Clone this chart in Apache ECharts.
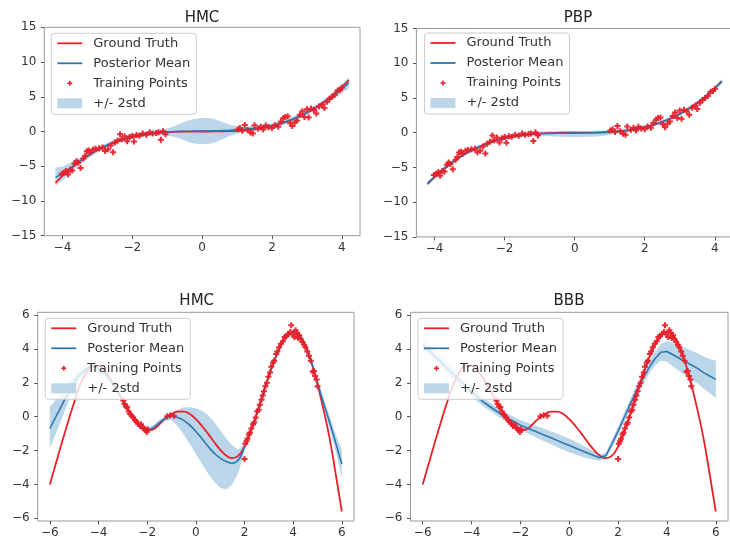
<!DOCTYPE html>
<html>
<head>
<meta charset="utf-8">
<script src="https://cdn.jsdelivr.net/npm/echarts@6/dist/echarts.min.js"></script>
<style>
  html, body { margin: 0; padding: 0; background: #ffffff; }
  #chart { width: 730px; height: 540px; }
</style>
</head>
<body>
<div id="chart"></div>
<script>
// ---- Cubic toy problem (top row) ----
const topX = [-4.2,-4.0,-3.8,-3.6,-3.4,-3.2,-3.0,-2.8,-2.6,-2.4,-2.2,-2.0,-1.8,-1.6,-1.4,-1.2,-1.0,-0.8,-0.6,-0.4,-0.2,0,0.2,0.4,0.6,0.8,1.0,1.2,1.4,1.6,1.8,2.0,2.2,2.4,2.6,2.8,3.0,3.2,3.4,3.6,3.8,4.0,4.2];
const topTruth = [-7.41,-6.4,-5.49,-4.67,-3.93,-3.28,-2.7,-2.2,-1.76,-1.38,-1.06,-0.8,-0.58,-0.41,-0.27,-0.17,-0.1,-0.05,-0.02,-0.01,0,0,0,0.01,0.02,0.05,0.1,0.17,0.27,0.41,0.58,0.8,1.06,1.38,1.76,2.2,2.7,3.28,3.93,4.67,5.49,6.4,7.41];

const topHmcMean = [-6.6,-6.05,-5.35,-4.6,-3.9,-3.25,-2.65,-2.15,-1.7,-1.3,-0.97,-0.72,-0.52,-0.36,-0.23,-0.13,-0.06,-0.01,0.02,0.04,0.05,0.06,0.08,0.1,0.13,0.18,0.25,0.33,0.42,0.52,0.66,0.85,1.1,1.42,1.8,2.25,2.75,3.3,3.9,4.6,5.35,6.15,7.0];
const topHmcLow  = [-7.8,-7.05,-6.15,-5.2,-4.35,-3.65,-3.03,-2.51,-2.05,-1.65,-1.32,-1.07,-0.87,-0.72,-0.61,-0.53,-0.56,-0.76,-1.13,-1.51,-1.75,-1.84,-1.77,-1.5,-1.07,-0.62,-0.25,-0.07,0.05,0.17,0.31,0.5,0.75,1.07,1.45,1.89,2.38,2.92,3.5,4.15,4.8,5.5,6.2];
const topHmcHigh = [-5.2,-5.05,-4.55,-4.0,-3.45,-2.85,-2.27,-1.79,-1.35,-0.95,-0.62,-0.37,-0.17,0.0,0.15,0.27,0.44,0.74,1.17,1.59,1.85,1.96,1.93,1.7,1.33,0.98,0.75,0.73,0.79,0.87,1.01,1.2,1.45,1.77,2.15,2.61,3.12,3.68,4.3,5.05,5.9,6.8,7.8];

const topPbpMean = [-7.3,-6.35,-5.45,-4.65,-3.92,-3.27,-2.7,-2.2,-1.76,-1.38,-1.06,-0.8,-0.59,-0.43,-0.3,-0.21,-0.15,-0.11,-0.09,-0.08,-0.07,-0.06,-0.05,-0.03,0,0.04,0.1,0.18,0.28,0.42,0.59,0.8,1.06,1.38,1.76,2.2,2.7,3.28,3.93,4.67,5.49,6.4,7.35];
const topPbpLow  = [-7.65,-6.67,-5.75,-4.93,-4.19,-3.53,-2.95,-2.45,-2.01,-1.63,-1.31,-1.05,-0.84,-0.69,-0.58,-0.51,-0.47,-0.5,-0.55,-0.6,-0.62,-0.63,-0.62,-0.6,-0.55,-0.48,-0.3,-0.14,0.0,0.16,0.34,0.55,0.81,1.13,1.51,1.95,2.44,3.01,3.65,4.38,5.19,6.08,7.0];
const topPbpHigh = [-6.95,-6.03,-5.15,-4.37,-3.65,-3.01,-2.45,-1.95,-1.51,-1.13,-0.81,-0.55,-0.34,-0.17,-0.02,0.09,0.17,0.2,0.22,0.23,0.24,0.24,0.25,0.26,0.28,0.3,0.4,0.48,0.56,0.68,0.84,1.05,1.31,1.63,2.01,2.45,2.96,3.55,4.21,4.96,5.79,6.72,7.7];

const topTrainX = [-4.02,-3.95,-3.9,-3.84,-3.78,-3.72,-3.65,-3.6,-3.55,-3.48,-3.4,-3.35,-3.3,-3.25,-3.2,-3.12,-3.05,-2.95,-2.85,-2.78,-2.7,-2.62,-2.55,-2.5,-2.42,-2.35,-2.3,-2.22,-2.15,-2.08,-2.0,-1.95,-1.88,-1.8,-1.7,-1.6,-1.5,-1.42,-1.32,-1.25,-1.18,-1.12,-1.05,
  1.02,1.08,1.15,1.22,1.3,1.38,1.45,1.5,1.6,1.68,1.75,1.82,1.9,2.0,2.08,2.18,2.25,2.32,2.38,2.45,2.52,2.58,2.65,2.72,2.8,2.87,2.93,3.0,3.05,3.12,3.2,3.27,3.35,3.45,3.5,3.58,3.65,3.72,3.8,3.88,3.95,4.0];
const topTrainY = [-6.1,-5.9,-5.7,-6.2,-5.5,-5.6,-4.6,-4.3,-4.5,-5.25,-3.9,-3.5,-2.85,-2.75,-3.0,-2.6,-2.5,-2.4,-2.3,-2.8,-2.6,-2.0,-3.0,-1.6,-1.3,-0.4,-1.1,-0.7,-1.4,-0.8,-0.6,-1.45,-0.5,-0.6,-0.3,-0.45,-0.1,-0.3,-0.2,-0.1,-1.2,0.05,-0.4,
  0.3,0.5,0.1,0.95,0.2,-0.15,-0.3,0.9,0.4,0.7,0.3,0.85,0.6,0.5,0.9,0.7,1.4,1.9,2.1,2.2,1.2,0.8,1.3,1.6,2.4,2.9,2.1,3.2,2.0,3.3,3.1,2.6,3.6,3.9,3.4,4.3,4.7,5.0,5.3,5.9,6.0,6.3];

// ---- Wavy toy problem (bottom row) ----
const botX = [-6,-5.75,-5.5,-5.25,-5,-4.75,-4.5,-4.25,-4,-3.75,-3.5,-3.25,-3,-2.75,-2.5,-2.25,-2,-1.75,-1.5,-1.25,-1,-0.75,-0.5,-0.25,0,0.25,0.5,0.75,1,1.25,1.5,1.75,2,2.25,2.5,2.75,3,3.25,3.5,3.75,4,4.25,4.5,4.75,5,5.25,5.5,5.75,6];
const botTruth = [-4.0,-2.75,-1.5,-0.3,0.85,1.9,2.6,3.0,3.0,2.7,2.2,1.6,0.95,0.35,-0.15,-0.55,-0.8,-0.75,-0.45,-0.1,0.15,0.3,0.3,0.15,-0.15,-0.55,-1.0,-1.5,-1.95,-2.3,-2.45,-2.3,-1.75,-0.9,0.15,1.3,2.4,3.4,4.2,4.8,5.0,4.8,4.2,3.2,1.9,0.4,-1.3,-3.4,-5.6];

const botHmcMean = [-0.7,0.0,0.7,1.4,2.0,2.5,2.8,2.95,2.85,2.55,2.1,1.55,0.92,0.35,-0.15,-0.55,-0.8,-0.65,-0.35,-0.1,0.02,-0.05,-0.22,-0.5,-0.88,-1.3,-1.75,-2.15,-2.45,-2.65,-2.75,-2.55,-1.8,-0.9,0.15,1.3,2.4,3.4,4.2,4.8,5.0,4.8,4.2,3.25,2.0,0.8,-0.35,-1.55,-2.8];
const botHmcLow  = [-1.85,-1.0,-0.1,0.85,1.6,2.2,2.55,2.75,2.65,2.38,1.95,1.4,0.8,0.22,-0.28,-0.68,-0.95,-0.8,-0.5,-0.25,-0.2,-0.55,-1.05,-1.6,-2.2,-2.8,-3.35,-3.85,-4.2,-4.3,-4.0,-3.3,-2.0,-1.05,0.0,1.15,2.25,3.25,4.05,4.65,4.85,4.65,4.05,3.1,1.85,0.55,-0.75,-2.05,-3.6];
const botHmcHigh = [0.6,1.0,1.5,1.95,2.4,2.8,3.05,3.15,3.05,2.72,2.25,1.7,1.04,0.48,-0.02,-0.42,-0.65,-0.5,-0.2,0.05,0.2,0.4,0.55,0.55,0.5,0.35,0.1,-0.3,-0.8,-1.3,-1.7,-1.95,-1.6,-0.75,0.3,1.45,2.55,3.55,4.35,4.95,5.15,4.95,4.35,3.4,2.15,1.05,0.05,-1.05,-1.95];

const botBbbMean = [4.25,3.9,3.55,3.2,2.85,2.5,2.15,1.8,1.45,1.15,0.85,0.6,0.35,0.1,-0.1,-0.3,-0.5,-0.65,-0.8,-0.95,-1.1,-1.25,-1.4,-1.55,-1.7,-1.85,-2.0,-2.15,-2.3,-2.42,-2.3,-1.6,-0.85,-0.05,0.75,1.5,2.2,2.85,3.4,3.8,3.85,3.65,3.45,3.25,3.05,2.85,2.6,2.4,2.2];
const botBbbLow  = [3.95,3.6,3.25,2.9,2.55,2.2,1.87,1.53,1.2,0.9,0.6,0.35,0.1,-0.15,-0.37,-0.58,-0.8,-0.97,-1.13,-1.3,-1.47,-1.63,-1.8,-1.95,-2.1,-2.23,-2.35,-2.45,-2.55,-2.6,-2.48,-1.85,-1.12,-0.33,0.45,1.18,1.87,2.5,3.0,3.3,3.25,2.95,2.7,2.45,2.2,1.95,1.65,1.4,1.1];
const botBbbHigh = [4.55,4.2,3.85,3.5,3.15,2.8,2.43,2.07,1.7,1.4,1.1,0.85,0.6,0.35,0.17,-0.02,-0.2,-0.33,-0.47,-0.6,-0.73,-0.87,-1.0,-1.15,-1.3,-1.47,-1.65,-1.85,-2.05,-2.24,-2.12,-1.35,-0.58,0.23,1.05,1.82,2.53,3.2,3.8,4.3,4.45,4.35,4.2,4.05,3.9,3.75,3.55,3.4,3.3];

const botTrainX = [-2.98,-2.93,-2.88,-2.82,-2.76,-2.7,-2.64,-2.58,-2.5,-2.45,-2.38,-2.3,-2.25,-2.18,-2.12,-2.06,-2.02,-1.98,
  -1.18,-1.05,-0.9,
  2.0,2.03,2.08,2.12,2.18,2.22,2.28,2.35,2.4,2.46,2.52,2.58,2.63,2.7,2.75,2.8,2.86,2.92,2.98,3.05,3.1,3.17,3.22,3.3,3.35,3.42,3.5,3.58,3.65,3.72,3.8,3.88,3.92,3.98,4.05,4.1,4.15,4.2,4.25,4.3,4.38,4.45,4.5,4.58,4.65,4.72,4.8,4.85,4.9,4.96,5.0];
const botTrainY = [0.95,0.75,0.6,0.55,0.3,0.15,0.05,-0.05,-0.2,-0.3,-0.4,-0.55,-0.45,-0.65,-0.7,-0.8,-0.9,-0.75,
  0.02,0.08,0.05,
  -2.5,-1.6,-1.45,-1.3,-1.05,-0.95,-0.7,-0.45,-0.35,-0.05,0.3,0.4,0.7,1.0,1.25,1.5,1.8,2.0,2.35,2.6,2.95,3.2,3.3,3.7,3.85,4.1,4.3,4.45,4.7,4.75,4.9,5.0,5.4,4.85,4.7,5.1,4.95,4.65,4.8,4.6,4.4,4.25,4.1,3.85,3.6,3.3,2.65,2.7,2.4,2.2,1.8];

// ---- Tick labels ----
const topXTicks = [-4, -2, 0, 2, 4];
const topYTicks = [-15, -10, -5, 0, 5, 10, 15];
const botXTicks = [-6, -4, -2, 0, 2, 4, 6];
const botYTicks = [-6, -4, -2, 0, 2, 4, 6];

const panelTitles = ['HMC', 'PBP', 'HMC', 'BBB'];
const legendNames = ['Ground Truth', 'Posterior Mean', 'Training Points', '+/- 2std'];

// ---- Styling & layout ----
const FONT = 'DejaVu Sans';
const RED = '#e8202a';
const BLUE = '#2b78b3';
const BAND_FILL = 'rgba(31,119,180,0.3)';
const BAND_KEY = '#bcd6e8';
const PLUS = 'path://M2,0H4V2H6V4H4V6H2V4H0V2H2Z';
// legend keys: leading moves pin the icon box to 31x14 so the glyph keeps its size
const KEY_LINE = 'path://M0,0M31,14M0,6.1H25V7.9H0Z';
const KEY_PLUS = 'path://M0,0M31,14M11.7,4.5H13.3V6.2H15V7.8H13.3V9.5H11.7V7.8H10V6.2H11.7Z';
const KEY_RECT = 'path://M0,0M31,14M0,2H25V12H0Z';

const panels = [
  { x: topX, truth: topTruth, mean: topHmcMean, low: topHmcLow, high: topHmcHigh, px: topTrainX, py: topTrainY,
    grid: { left: 44.3, top: 27.3, width: 315.7, height: 208.4 }, title: [202, 10.5], legend: [51.3, 33.3],
    xr: [-4.52, 4.52], yr: [-15, 15], xt: topXTicks, yt: topYTicks, meanSmooth: true },
  { x: topX, truth: topTruth, mean: topPbpMean, low: topPbpLow, high: topPbpHigh, px: topTrainX, py: topTrainY,
    grid: { left: 416.4, top: 28.5, width: 316.6, height: 208.4 }, title: [578, 10.5], legend: [424.5, 33],
    xr: [-4.52, 4.52], yr: [-15, 15], xt: topXTicks, yt: topYTicks, meanSmooth: true },
  { x: botX, truth: botTruth, mean: botHmcMean, low: botHmcLow, high: botHmcHigh, px: botTrainX, py: botTrainY,
    grid: { left: 37.7, top: 312.3, width: 316.3, height: 208.7 }, title: [196.7, 293.5], legend: [45.3, 318.3],
    xr: [-6.5, 6.5], yr: [-6.16, 6.16], xt: botXTicks, yt: botYTicks, meanSmooth: true },
  { x: botX, truth: botTruth, mean: botBbbMean, low: botBbbLow, high: botBbbHigh, px: botTrainX, py: botTrainY,
    grid: { left: 410.5, top: 312.3, width: 317.5, height: 208.7 }, title: [569, 293.5], legend: [418, 318.3],
    xr: [-6.5, 6.5], yr: [-6.16, 6.16], xt: botXTicks, yt: botYTicks, meanSmooth: false }
];

const minusFmt = v => String(v).replace('-', '\u2212');

const legendKeys = [
  { name: legendNames[0], icon: KEY_LINE, itemStyle: { color: RED } },
  { name: legendNames[1], icon: KEY_LINE, itemStyle: { color: BLUE } },
  { name: legendNames[2], icon: KEY_PLUS, itemStyle: { color: RED } },
  { name: legendNames[3], icon: KEY_RECT, itemStyle: { color: BAND_KEY } }
];

// +/- 2std band: one filled polygon running along the upper edge and back along the lower edge
function bandRenderer(p) {
  return function (params, api) {
    if (params.dataIndex !== 0) return null;
    const upper = p.x.map((v, k) => api.coord([v, p.high[k]]));
    const lower = p.x.map((v, k) => api.coord([v, p.low[k]])).reverse();
    return {
      type: 'polygon',
      shape: { points: upper.concat(lower) },
      style: { fill: BAND_FILL, stroke: null },
      silent: true
    };
  };
}

const series = [];
panels.forEach((p, i) => {
  series.push({
    type: 'custom', name: legendNames[3], xAxisIndex: i, yAxisIndex: i, z: 1, clip: true,
    silent: true, color: BAND_KEY,
    renderItem: bandRenderer(p),
    encode: { x: 0, y: [1, 2] },
    data: p.x.map((v, k) => [v, p.low[k], p.high[k]])
  });
  series.push({
    type: 'line', name: legendNames[0], xAxisIndex: i, yAxisIndex: i, symbol: 'none', silent: true,
    smooth: true, z: 2, color: RED,
    lineStyle: { color: RED, width: 1.8 },
    data: p.x.map((v, k) => [v, p.truth[k]])
  });
  series.push({
    type: 'line', name: legendNames[1], xAxisIndex: i, yAxisIndex: i, symbol: 'none', silent: true,
    smooth: p.meanSmooth, z: 3, color: BLUE,
    lineStyle: { color: BLUE, width: 1.6 },
    data: p.x.map((v, k) => [v, p.mean[k]])
  });
  series.push({
    type: 'scatter', name: legendNames[2], xAxisIndex: i, yAxisIndex: i, silent: true, z: 4,
    symbol: PLUS, symbolSize: 6, itemStyle: { color: RED, opacity: 0.95 },
    data: p.px.map((v, k) => [v, p.py[k]])
  });
});

const option = {
  animation: false,
  backgroundColor: '#ffffff',
  textStyle: { fontFamily: FONT },
  title: panels.map((p, i) => ({
    text: panelTitles[i], left: p.title[0], top: p.title[1], textAlign: 'center', padding: 0,
    textStyle: { fontFamily: FONT, fontSize: 15, fontWeight: 'normal', color: '#222' }
  })),
  grid: panels.map(p => Object.assign({
    show: true, borderColor: '#9a9a9a', borderWidth: 1, backgroundColor: 'transparent',
    containLabel: false, outerBoundsMode: 'none'
  }, p.grid)),
  xAxis: panels.map((p, i) => ({
    type: 'value', gridIndex: i, min: p.xr[0], max: p.xr[1],
    axisLine: { show: false, onZero: false },
    splitLine: { show: false },
    axisTick: { show: true, length: 3.5, customValues: p.xt, lineStyle: { color: '#555' } },
    axisLabel: { customValues: p.xt, formatter: minusFmt, fontFamily: FONT, fontSize: 12, color: '#333', margin: 6 }
  })),
  yAxis: panels.map((p, i) => ({
    type: 'value', gridIndex: i, min: p.yr[0], max: p.yr[1],
    axisLine: { show: false, onZero: false },
    splitLine: { show: false },
    axisTick: { show: true, length: 3.5, customValues: p.yt, lineStyle: { color: '#555' } },
    axisLabel: { customValues: p.yt, formatter: minusFmt, fontFamily: FONT, fontSize: 12, color: '#333', margin: 8 }
  })),
  legend: panels.map(p => ({
    orient: 'vertical', left: p.legend[0], top: p.legend[1], z: 10,
    padding: [3, 6, 4, 6], itemGap: 6, itemWidth: 31, itemHeight: 14,
    backgroundColor: 'rgba(255,255,255,0.8)', borderColor: '#cccccc', borderWidth: 1, borderRadius: 3,
    selectedMode: false,
    itemStyle: { borderWidth: 0, opacity: 1 },
    textStyle: { fontFamily: FONT, fontSize: 13, color: '#333' },
    data: legendKeys
  })),
  series: series
};

const chart = echarts.init(document.getElementById('chart'), null, { renderer: 'canvas' });
chart.setOption(option);
</script>
</body>
</html>
